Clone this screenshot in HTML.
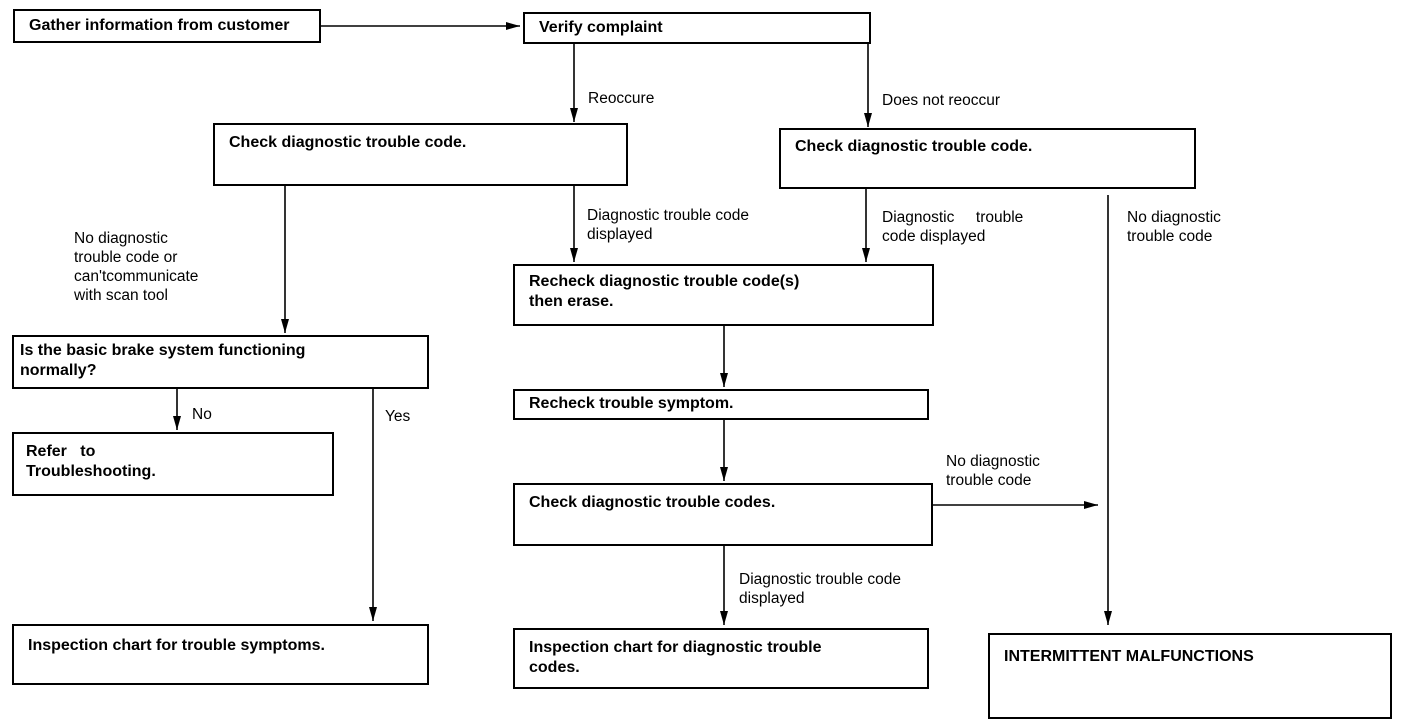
<!DOCTYPE html>
<html><head><style>
body{margin:0;width:1408px;height:728px;background:#fff;position:relative;overflow:hidden;font-family:"Liberation Sans",Arial,sans-serif;color:#000}
.b{position:absolute;border:2px solid #000;box-sizing:border-box;font-weight:bold;font-size:16px;line-height:20px;padding:3px 14px}
.t{position:absolute;font-size:15.5px;line-height:19px}
svg{position:absolute;left:0;top:0}
</style></head><body>
<svg width="1408" height="728">
<defs><marker id="a" markerWidth="14" markerHeight="8" refX="14" refY="4" orient="auto" markerUnits="userSpaceOnUse"><path d="M0,0 L14,4 L0,8 Z" fill="#000"/></marker></defs>
<g stroke="#000" stroke-width="1.6" fill="none">
<line x1="320" y1="26" x2="520" y2="26" marker-end="url(#a)"/>
<line x1="574" y1="43" x2="574" y2="122" marker-end="url(#a)"/>
<line x1="868" y1="43" x2="868" y2="127" marker-end="url(#a)"/>
<line x1="285" y1="185" x2="285" y2="333" marker-end="url(#a)"/>
<line x1="574" y1="185" x2="574" y2="262" marker-end="url(#a)"/>
<line x1="866" y1="188" x2="866" y2="262" marker-end="url(#a)"/>
<line x1="1108" y1="195" x2="1108" y2="625" marker-end="url(#a)"/>
<line x1="724" y1="325" x2="724" y2="387" marker-end="url(#a)"/>
<line x1="724" y1="419" x2="724" y2="481" marker-end="url(#a)"/>
<line x1="724" y1="545" x2="724" y2="625" marker-end="url(#a)"/>
<line x1="932" y1="505" x2="1098" y2="505" marker-end="url(#a)"/>
<line x1="177" y1="388" x2="177" y2="430" marker-end="url(#a)"/>
<line x1="373" y1="388" x2="373" y2="621" marker-end="url(#a)"/>
</g></svg>
<div class="b" style="left:13px;top:9px;width:308px;height:34px;padding-top:5px">Gather information from customer</div>
<div class="b" style="left:523px;top:12px;width:348px;height:32px;padding-top:4px">Verify complaint</div>
<div class="b" style="left:213px;top:123px;width:415px;height:63px;padding-top:8px">Check diagnostic trouble code.</div>
<div class="b" style="left:779px;top:128px;width:417px;height:61px;padding-top:7px">Check diagnostic trouble code.</div>
<div class="b" style="left:513px;top:264px;width:421px;height:62px;padding-top:6px">Recheck diagnostic trouble code(s)<br>then erase.</div>
<div class="b" style="left:12px;top:335px;width:417px;height:54px;padding:4px 6px">Is the basic brake system functioning<br>normally?</div>
<div class="b" style="left:12px;top:432px;width:322px;height:64px;padding:8px 12px">Refer &nbsp;&nbsp;to<br>Troubleshooting.</div>
<div class="b" style="left:513px;top:389px;width:416px;height:31px;padding-top:3px">Recheck trouble symptom.</div>
<div class="b" style="left:513px;top:483px;width:420px;height:63px;padding-top:8px">Check diagnostic trouble codes.</div>
<div class="b" style="left:12px;top:624px;width:417px;height:61px;padding-top:10px">Inspection chart for trouble symptoms.</div>
<div class="b" style="left:513px;top:628px;width:416px;height:61px;padding-top:8px">Inspection chart for diagnostic trouble<br>codes.</div>
<div class="b" style="left:988px;top:633px;width:404px;height:86px;padding-top:12px">INTERMITTENT MALFUNCTIONS</div>
<div class="t" style="left:588px;top:89px">Reoccure</div>
<div class="t" style="left:882px;top:91px">Does not reoccur</div>
<div class="t" style="left:74px;top:229px">No diagnostic<br>trouble code or<br>can'tcommunicate<br>with scan tool</div>
<div class="t" style="left:587px;top:206px">Diagnostic trouble code<br>displayed</div>
<div class="t" style="left:882px;top:208px">Diagnostic &nbsp;&nbsp;&nbsp;&nbsp;trouble<br>code displayed</div>
<div class="t" style="left:1127px;top:208px">No diagnostic<br>trouble code</div>
<div class="t" style="left:192px;top:405px">No</div>
<div class="t" style="left:385px;top:407px">Yes</div>
<div class="t" style="left:946px;top:452px">No diagnostic<br>trouble code</div>
<div class="t" style="left:739px;top:570px">Diagnostic trouble code<br>displayed</div>
</body></html>
